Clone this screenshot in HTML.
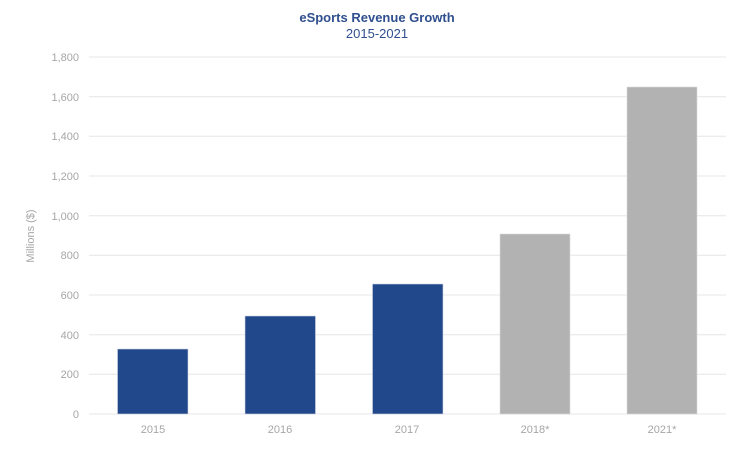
<!DOCTYPE html>
<html><head><meta charset="utf-8"><style>
html,body{margin:0;padding:0;background:#fff;}
svg{display:block;font-family:"Liberation Sans",Arial,sans-serif;}
</style></head><body>
<svg width="750" height="453" viewBox="0 0 750 453">
<g stroke="#ececec" stroke-width="1.3">
<line x1="89" x2="726" y1="57" y2="57"/>
<line x1="89" x2="726" y1="96.7" y2="96.7"/>
<line x1="89" x2="726" y1="136.3" y2="136.3"/>
<line x1="89" x2="726" y1="176" y2="176"/>
<line x1="89" x2="726" y1="215.7" y2="215.7"/>
<line x1="89" x2="726" y1="255.3" y2="255.3"/>
<line x1="89" x2="726" y1="295" y2="295"/>
<line x1="89" x2="726" y1="334.7" y2="334.7"/>
<line x1="89" x2="726" y1="374.3" y2="374.3"/>
<line x1="89" x2="726" y1="414" y2="414"/>
</g>
<g fill="#a6a6a6" font-size="11" text-anchor="end">
<text x="79" y="61">1,800</text>
<text x="79" y="101">1,600</text>
<text x="79" y="140">1,400</text>
<text x="79" y="180">1,200</text>
<text x="79" y="220">1,000</text>
<text x="79" y="259">800</text>
<text x="79" y="299">600</text>
<text x="79" y="339">400</text>
<text x="79" y="378">200</text>
<text x="79" y="418">0</text>
</g>
<text x="34" y="236" fill="#a6a6a6" font-size="11" text-anchor="middle" transform="rotate(-90 34 236)">Millions ($)</text>
<g fill="#21488a" stroke="#d0d5e0" stroke-width="0.6">
<rect x="117.5" y="349" width="70.5" height="65"/>
<rect x="245" y="316" width="70.5" height="98"/>
<rect x="372.5" y="284" width="70.5" height="130"/>
</g>
<g fill="#b2b2b2" stroke="#dcdcdc" stroke-width="0.6">
<rect x="500" y="234" width="70" height="180"/>
<rect x="627" y="87" width="70" height="327"/>
</g>
<g fill="#a6a6a6" font-size="11" text-anchor="middle">
<text x="153" y="433">2015</text>
<text x="280" y="433">2016</text>
<text x="407" y="433">2017</text>
<text x="535" y="433">2018*</text>
<text x="662" y="433">2021*</text>
</g>
<text x="377" y="22" fill="#2f4f8f" font-size="13" font-weight="bold" text-anchor="middle">eSports Revenue Growth</text>
<text x="377" y="38" fill="#2f4f8f" font-size="13" text-anchor="middle">2015-2021</text>
</svg>
</body></html>
